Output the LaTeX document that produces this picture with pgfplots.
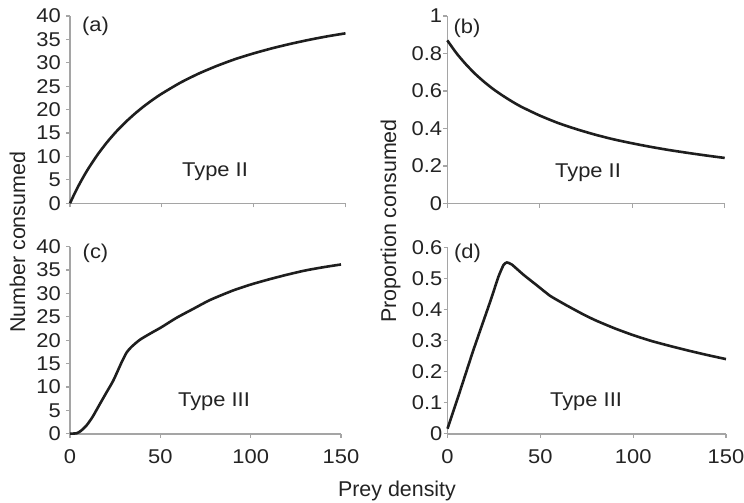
\documentclass[border=0pt]{standalone}
\usepackage{fontspec}
\setmainfont{Liberation Sans}
\newfontfamily\tickfont{Liberation Sans}[FakeStretch=1.1]
\usepackage{pgfplots}
\pgfplotsset{compat=1.18}

\definecolor{axisgray}{RGB}{165,165,165}
\definecolor{ink}{RGB}{30,30,30}
\definecolor{txt}{RGB}{35,35,35}

\newcommand{\smallfont}{\tickfont\fontsize{20}{20}\selectfont}
\newcommand{\labelfont}{\fontsize{21.5}{21.5}\selectfont}

\pgfplotsset{
  panel/.style={
    scale only axis,
    anchor=south west,
    axis lines=left,
    axis line style={-, draw=axisgray, line width=1.6bp},
    tick style={draw=axisgray, line width=1.2bp},
    major tick length=4bp,
    tick align=outside,
    xmin=0, xmax=150,
    xtick={0,50,100,150},
    clip=false,
    /pgf/number format/assume math mode=true,
    ticklabel style={font=\smallfont, text=txt, inner sep=0pt},
    xticklabel style={anchor=north, yshift=-12bp},
  },
  curve/.style={draw=ink, line width=2.6bp, mark=none, smooth, tension=0.4},
}

\begin{document}
\begin{tikzpicture}
\path[use as bounding box] (0,0) rectangle (744bp,-503bp);

% (a) Type II, number consumed
\begin{axis}[panel, at={(70bp,-203.3bp)}, width=275.5bp, height=187.3bp,
  ymin=0, ymax=40, ytick={0,5,...,40}, xticklabels={},
  yticklabel style={anchor=east, xshift=-5bp}]
\addplot[curve] coordinates {
 (0,0) (2.5,2.09) (5,4.01) (7.5,5.78) (10,7.43) (15,10.38) (20,12.96)
 (25,15.23) (30,17.24) (35,19.03) (40,20.65) (45,22.10) (50,23.42)
 (60,25.74) (70,27.69) (80,29.35) (90,30.80) (100,32.02) (110,33.10)
 (120,34.05) (130,34.90) (140,35.65) (150,36.30)};
\end{axis}

% (b) Type II, proportion consumed
\begin{axis}[panel, at={(447.3bp,-203.5bp)}, width=277.4bp, height=187.5bp,
  ymin=0, ymax=1, ytick={0,0.2,0.4,0.6,0.8,1}, xticklabels={},
  yticklabel style={anchor=east, xshift=-1bp}]
\addplot[curve] coordinates {
 (0,0.870) (5,0.801) (10,0.743) (15,0.692) (20,0.648) (25,0.609)
 (30,0.575) (35,0.544) (40,0.516) (50,0.469) (60,0.429) (70,0.396)
 (80,0.367) (90,0.342) (100,0.321) (110,0.302) (120,0.285) (130,0.270)
 (140,0.256) (150,0.243)};
\end{axis}

% (c) Type III, number consumed
\begin{axis}[panel, at={(70bp,-433.7bp)}, width=271bp, height=187bp,
  ymin=0, ymax=40, ytick={0,5,...,40},
  yticklabel style={anchor=east, xshift=-5bp}]
\addplot[curve] coordinates {
 (0,0) (3.7,0.1) (6,0.6) (9.2,1.8) (12.5,3.6) (16.6,6.4) (20,8.7)
 (24,11.4) (28.6,15.3) (31.4,17.4) (34.1,18.6) (38.7,20.1) (44.3,21.4)
 (50.7,22.8) (59,24.8) (68.2,26.7) (77.5,28.6) (90,30.6) (100,31.9)
 (110,33.0) (120,34.0) (130,34.9) (140,35.6) (150,36.2)};
\end{axis}

% (d) Type III, proportion consumed
\begin{axis}[panel, at={(447.5bp,-433.7bp)}, width=278.5bp, height=186.5bp,
  ymin=0, ymax=0.6, ytick={0,0.1,0.2,0.3,0.4,0.5,0.6},
  yticklabel style={anchor=east, xshift=-1bp}]
\addplot[curve, tension=0.3] coordinates {
 (0,0.016) (6.9,0.140) (14,0.270) (23,0.425) (27.5,0.506) (30.2,0.543)
 (32,0.551) (34.7,0.544) (41,0.511) (48.2,0.477) (55.4,0.443)
 (64.4,0.412) (73.4,0.383) (80,0.364) (90,0.339) (100,0.317)
 (110,0.298) (120,0.282) (130,0.267) (140,0.253) (150,0.240)};
\end{axis}

% panel tags and curve types
\begin{scope}[every node/.style={font=\smallfont, text=txt, inner sep=0pt}]
\node at (95.5bp,-26.5bp) {(a)};
\node at (467bp,-28bp) {(b)};
\node at (95.5bp,-253bp) {(c)};
\node at (467.5bp,-253.5bp) {(d)};
\node at (215bp,-172bp) {Type II};
\node at (588bp,-173bp) {Type II};
\node at (214bp,-402bp) {Type III};
\node at (586bp,-402bp) {Type III};
\end{scope}

% axis titles
\begin{scope}[every node/.style={font=\labelfont, text=txt, inner sep=0pt}]
\node[rotate=90, anchor=base west] at (25bp,-333bp) {Number consumed};
\node[rotate=90, anchor=base west] at (396bp,-323bp) {Proportion consumed};
\node[anchor=base] at (397bp,-496.7bp) {Prey density};
\end{scope}
\end{tikzpicture}
\end{document}
